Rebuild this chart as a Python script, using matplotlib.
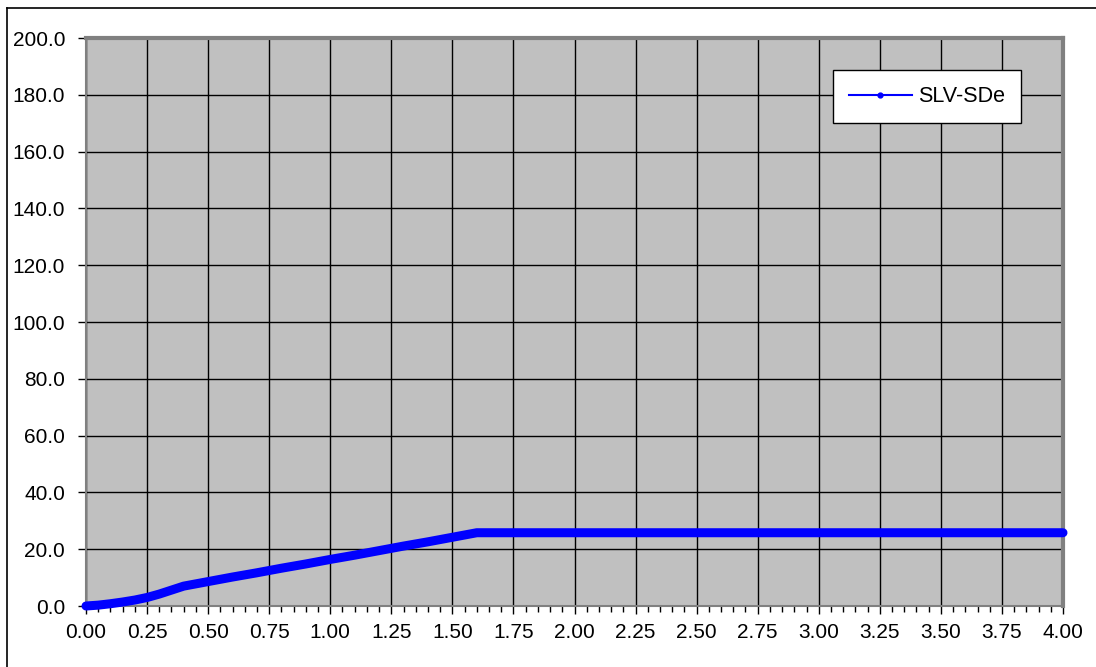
import matplotlib
matplotlib.use("Agg")
import matplotlib.pyplot as plt
from matplotlib.lines import Line2D
from matplotlib.ticker import MultipleLocator, FormatStrFormatter

# period T [s] and displacement spectrum SDe
period = [0.0, 0.05, 0.1, 0.15, 0.2, 0.25, 0.3, 0.35, 0.4, 0.5, 0.6, 0.7, 0.8,
          0.9, 1.0, 1.1, 1.2, 1.3, 1.4, 1.5, 1.6, 2.0, 2.5, 3.0, 3.5, 4.0]
sde = [0.0, 0.3, 0.8, 1.4, 2.1, 3.0, 4.2, 5.6, 7.0, 8.6, 10.2, 11.7, 13.3,
       14.8, 16.4, 17.9, 19.5, 21.1, 22.6, 24.2, 25.8, 25.8, 25.8, 25.8, 25.8, 25.8]
series_name = "SLV-SDe"

plt.rcParams['font.family'] = ['Liberation Sans', 'DejaVu Sans']

fig = plt.figure(figsize=(10.96, 6.67), dpi=100)
ax = fig.add_axes([86/1096, 1-606/667, (1063-86)/1096, (606-38)/667])
ax.set_facecolor('#c0c0c0')

ax.plot(period, sde, color='#0000ff', lw=6.5, solid_capstyle='round',
        solid_joinstyle='round', zorder=3, clip_on=False)

ax.set_xlim(0, 4)
ax.set_ylim(0, 200)
ax.xaxis.set_major_locator(MultipleLocator(0.25))
ax.xaxis.set_minor_locator(MultipleLocator(0.05))
ax.yaxis.set_major_locator(MultipleLocator(20))
ax.xaxis.set_major_formatter(FormatStrFormatter('%.2f'))
ax.yaxis.set_major_formatter(FormatStrFormatter('%.1f'))
ax.grid(True, which='major', color='black', lw=1.0)
ax.set_axisbelow(True)

for s in ax.spines.values():
    s.set_color('#808080')
    s.set_linewidth(1.5)
ax.spines['top'].set_linewidth(3)
ax.spines['right'].set_linewidth(3)

ax.tick_params(which='major', length=6, width=1, color='black',
               labelsize=15)
ax.tick_params(axis='x', which='major', pad=6)
ax.tick_params(axis='y', which='major', pad=9)
ax.tick_params(which='minor', length=4, width=1, color='black')
ax.tick_params(axis='y', which='minor', left=False)

handle = Line2D([], [], color='#0000ff', lw=1.5, marker='o', markersize=3.5)
leg = ax.legend([handle], [series_name], loc='upper left',
                bbox_to_anchor=((833-86)/977, 1-(70-38)/568),
                fontsize=15.5, frameon=True, fancybox=False, handlelength=2.9,
                borderpad=0.75, borderaxespad=0, handletextpad=0.3)
leg.get_frame().set_edgecolor('black')
leg.get_frame().set_linewidth(1.0)
leg.get_frame().set_facecolor('white')
leg.get_frame().set_alpha(1)

# outer chart border (top and left visible)
fig.add_artist(Line2D([7/1096, 1], [1-8/667, 1-8/667], color='black', lw=1.2,
                      transform=fig.transFigure))
fig.add_artist(Line2D([7/1096, 7/1096], [0, 1-8/667], color='black', lw=1.2,
                      transform=fig.transFigure))

fig.savefig('out.png', dpi=100)
